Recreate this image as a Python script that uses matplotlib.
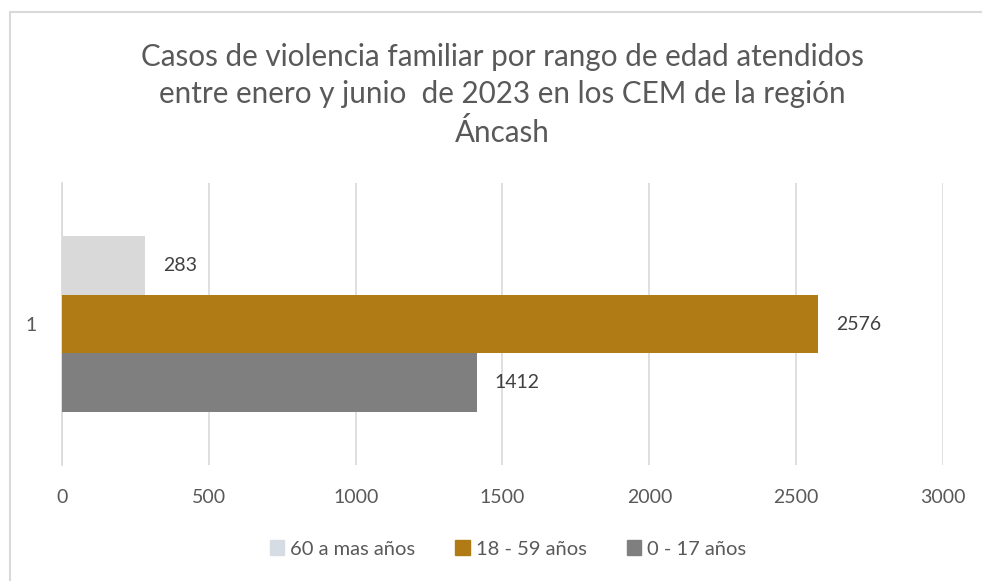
import matplotlib.pyplot as plt
from matplotlib.patches import Rectangle, Patch

plt.rcParams['font.family'] = ['Lato', 'DejaVu Sans']

title = "Casos de violencia familiar por rango de edad atendidos\nentre enero y junio  de 2023 en los CEM de la región\nÁncash"
series = ["60 a mas años", "18 - 59 años", "0 - 17 años"]
values = [283, 2576, 1412]
colors = ["#D9D9D9", "#B07A14", "#7F7F7F"]
legend_colors = ["#D6DCE4", "#B07A14", "#7F7F7F"]
category = "1"
xticks = [0, 500, 1000, 1500, 2000, 2500, 3000]

fig = plt.figure(figsize=(9.82, 5.81), dpi=100)
# chart border (light gray, runs off the right/bottom edges)
fig.patches.append(Rectangle((10 / 982, -0.05), 1.0, 1 - 12 / 581 + 0.05,
                             transform=fig.transFigure, fill=False,
                             edgecolor="#D9D9D9", linewidth=1.5))

ax = fig.add_axes([62 / 982, 1 - 465 / 581, (943 - 62) / 982, (465 - 183) / 581])

bh = 0.207
offsets = [bh, 0, -bh]
for name, v, c, off in zip(series, values, colors, offsets):
    ax.barh(1 + off, v, height=bh, color=c, zorder=3)
    ax.text(v + 60, 1 + off, str(v), va="center", ha="left",
            fontsize=14, color="#404040")

ax.set_xlim(0, 3000)
ax.set_ylim(0.5, 1.5)
ax.set_xticks(xticks)
ax.set_yticks([1])
ax.set_yticklabels([category])
ax.xaxis.grid(True, color="#D9D9D9", linewidth=1.2, zorder=0)
for s in ["top", "right", "bottom"]:
    ax.spines[s].set_visible(False)
ax.spines["left"].set_color("#D9D9D9")
ax.spines["left"].set_linewidth(1.2)
ax.tick_params(axis="both", length=0, labelsize=14, colors="#595959")
ax.tick_params(axis="x", pad=17)
ax.tick_params(axis="y", pad=18)

fig.text(502 / 982, 1 - 95 / 581, title, ha="center", va="center", fontsize=21.3,
         color="#595959", linespacing=1.4)

handles = [Patch(color=c, label=n) for n, c in zip(series, legend_colors)]
fig.legend(handles=handles, loc="center", bbox_to_anchor=(508 / 982, 1 - 549 / 581),
           ncol=3, frameon=False, fontsize=14.5, labelcolor="#595959",
           handlelength=0.7, handleheight=0.7, handletextpad=0.3, columnspacing=2.0)

plt.savefig("out.png", dpi=100)
